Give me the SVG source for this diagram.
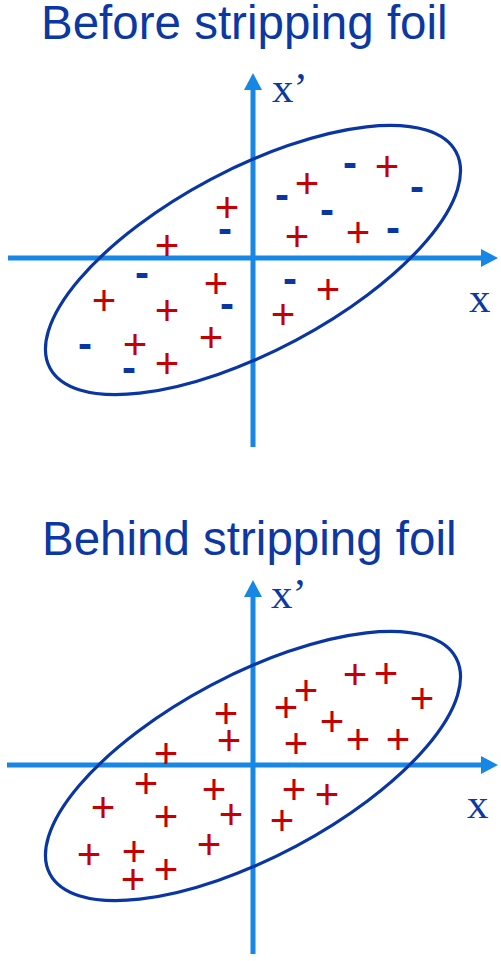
<svg xmlns="http://www.w3.org/2000/svg" width="501" height="961" viewBox="0 0 501 961">
  <style>
    .title { font-family: "Liberation Sans", Arial, sans-serif; font-size: 47.5px; fill: #0B38A2; }
    .lbl { font-family: "Liberation Serif", "Times New Roman", serif; font-size: 43px; fill: #0B38A2; }
    .axis { stroke: #1787E6; stroke-width: 5; fill: none; }
    .ell { stroke: #0A36A3; stroke-width: 3.2; fill: none; }
    .p { font-family: "Liberation Sans", Arial, sans-serif; font-size: 42px; fill: #C40000; text-anchor: middle; }
    .m { font-family: "Liberation Sans", Arial, sans-serif; font-size: 42px; font-weight: bold; fill: #0A36A3; text-anchor: middle; }
  </style>
  <defs>
    <marker id="arr" markerUnits="userSpaceOnUse" markerWidth="17" markerHeight="18" viewBox="0 0 17 18" refX="4" refY="9" orient="auto">
      <path d="M0,0 L17,9 L0,18 Z" fill="#1787E6"/>
    </marker>
  </defs>

  <g id="title-before"><text class="title" x="41" y="39">Before stripping foil</text></g>
  <g id="title-behind"><text class="title" x="42" y="555">Behind stripping foil</text></g>

  <g id="connectors">
    <line class="axis" x1="8" y1="258" x2="485" y2="258" marker-end="url(#arr)"/>
    <line class="axis" x1="253" y1="447" x2="253" y2="86" marker-end="url(#arr)"/>
    <line class="axis" x1="7" y1="765" x2="485" y2="765" marker-end="url(#arr)"/>
    <line class="axis" x1="253" y1="954" x2="253" y2="593" marker-end="url(#arr)"/>
  </g>

  <g id="ellipse-before"><ellipse class="ell" cx="253" cy="260" rx="230" ry="91" transform="rotate(-28 253 260)"/></g>
  <g id="ellipse-behind"><ellipse class="ell" cx="253" cy="766" rx="230" ry="91" transform="rotate(-28 253 766)"/></g>

  <g id="labels-before">
    <text class="lbl" x="272" y="102">x’</text>
    <text class="lbl" x="469" y="312">x</text>
  </g>
  <g id="labels-behind">
    <text class="lbl" x="271" y="608">x’</text>
    <text class="lbl" x="467" y="818">x</text>
  </g>

  <g id="charges-before">
    <text class="p" x="227" y="222">+</text>
    <text class="p" x="167" y="260">+</text>
    <text class="p" x="387" y="181">+</text>
    <text class="p" x="307" y="198">+</text>
    <text class="p" x="297" y="251">+</text>
    <text class="p" x="358" y="247">+</text>
    <text class="p" x="216" y="298">+</text>
    <text class="p" x="104" y="315">+</text>
    <text class="p" x="167" y="325">+</text>
    <text class="p" x="135" y="359">+</text>
    <text class="p" x="211" y="352">+</text>
    <text class="p" x="167" y="378">+</text>
    <text class="p" x="328" y="304">+</text>
    <text class="p" x="283" y="329">+</text>
    <text class="m" x="225" y="243">-</text>
    <text class="m" x="350" y="177">-</text>
    <text class="m" x="417" y="201">-</text>
    <text class="m" x="282" y="209">-</text>
    <text class="m" x="327" y="224">-</text>
    <text class="m" x="393" y="242">-</text>
    <text class="m" x="142" y="287">-</text>
    <text class="m" x="227" y="318">-</text>
    <text class="m" x="85" y="358">-</text>
    <text class="m" x="129" y="382">-</text>
    <text class="m" x="290" y="293">-</text>
  </g>

  <g id="charges-behind">
    <text class="p" x="226" y="728">+</text>
    <text class="p" x="229" y="755">+</text>
    <text class="p" x="166" y="768">+</text>
    <text class="p" x="355" y="689">+</text>
    <text class="p" x="386" y="688">+</text>
    <text class="p" x="306" y="705">+</text>
    <text class="p" x="286" y="722">+</text>
    <text class="p" x="422" y="713">+</text>
    <text class="p" x="332" y="736">+</text>
    <text class="p" x="358" y="754">+</text>
    <text class="p" x="398" y="754">+</text>
    <text class="p" x="296" y="758">+</text>
    <text class="p" x="146" y="798">+</text>
    <text class="p" x="214" y="804">+</text>
    <text class="p" x="103" y="822">+</text>
    <text class="p" x="166" y="831">+</text>
    <text class="p" x="231" y="829">+</text>
    <text class="p" x="209" y="859">+</text>
    <text class="p" x="89" y="869">+</text>
    <text class="p" x="134" y="866">+</text>
    <text class="p" x="133" y="894">+</text>
    <text class="p" x="166" y="884">+</text>
    <text class="p" x="294" y="804">+</text>
    <text class="p" x="327" y="809">+</text>
    <text class="p" x="282" y="835">+</text>
  </g>
</svg>
